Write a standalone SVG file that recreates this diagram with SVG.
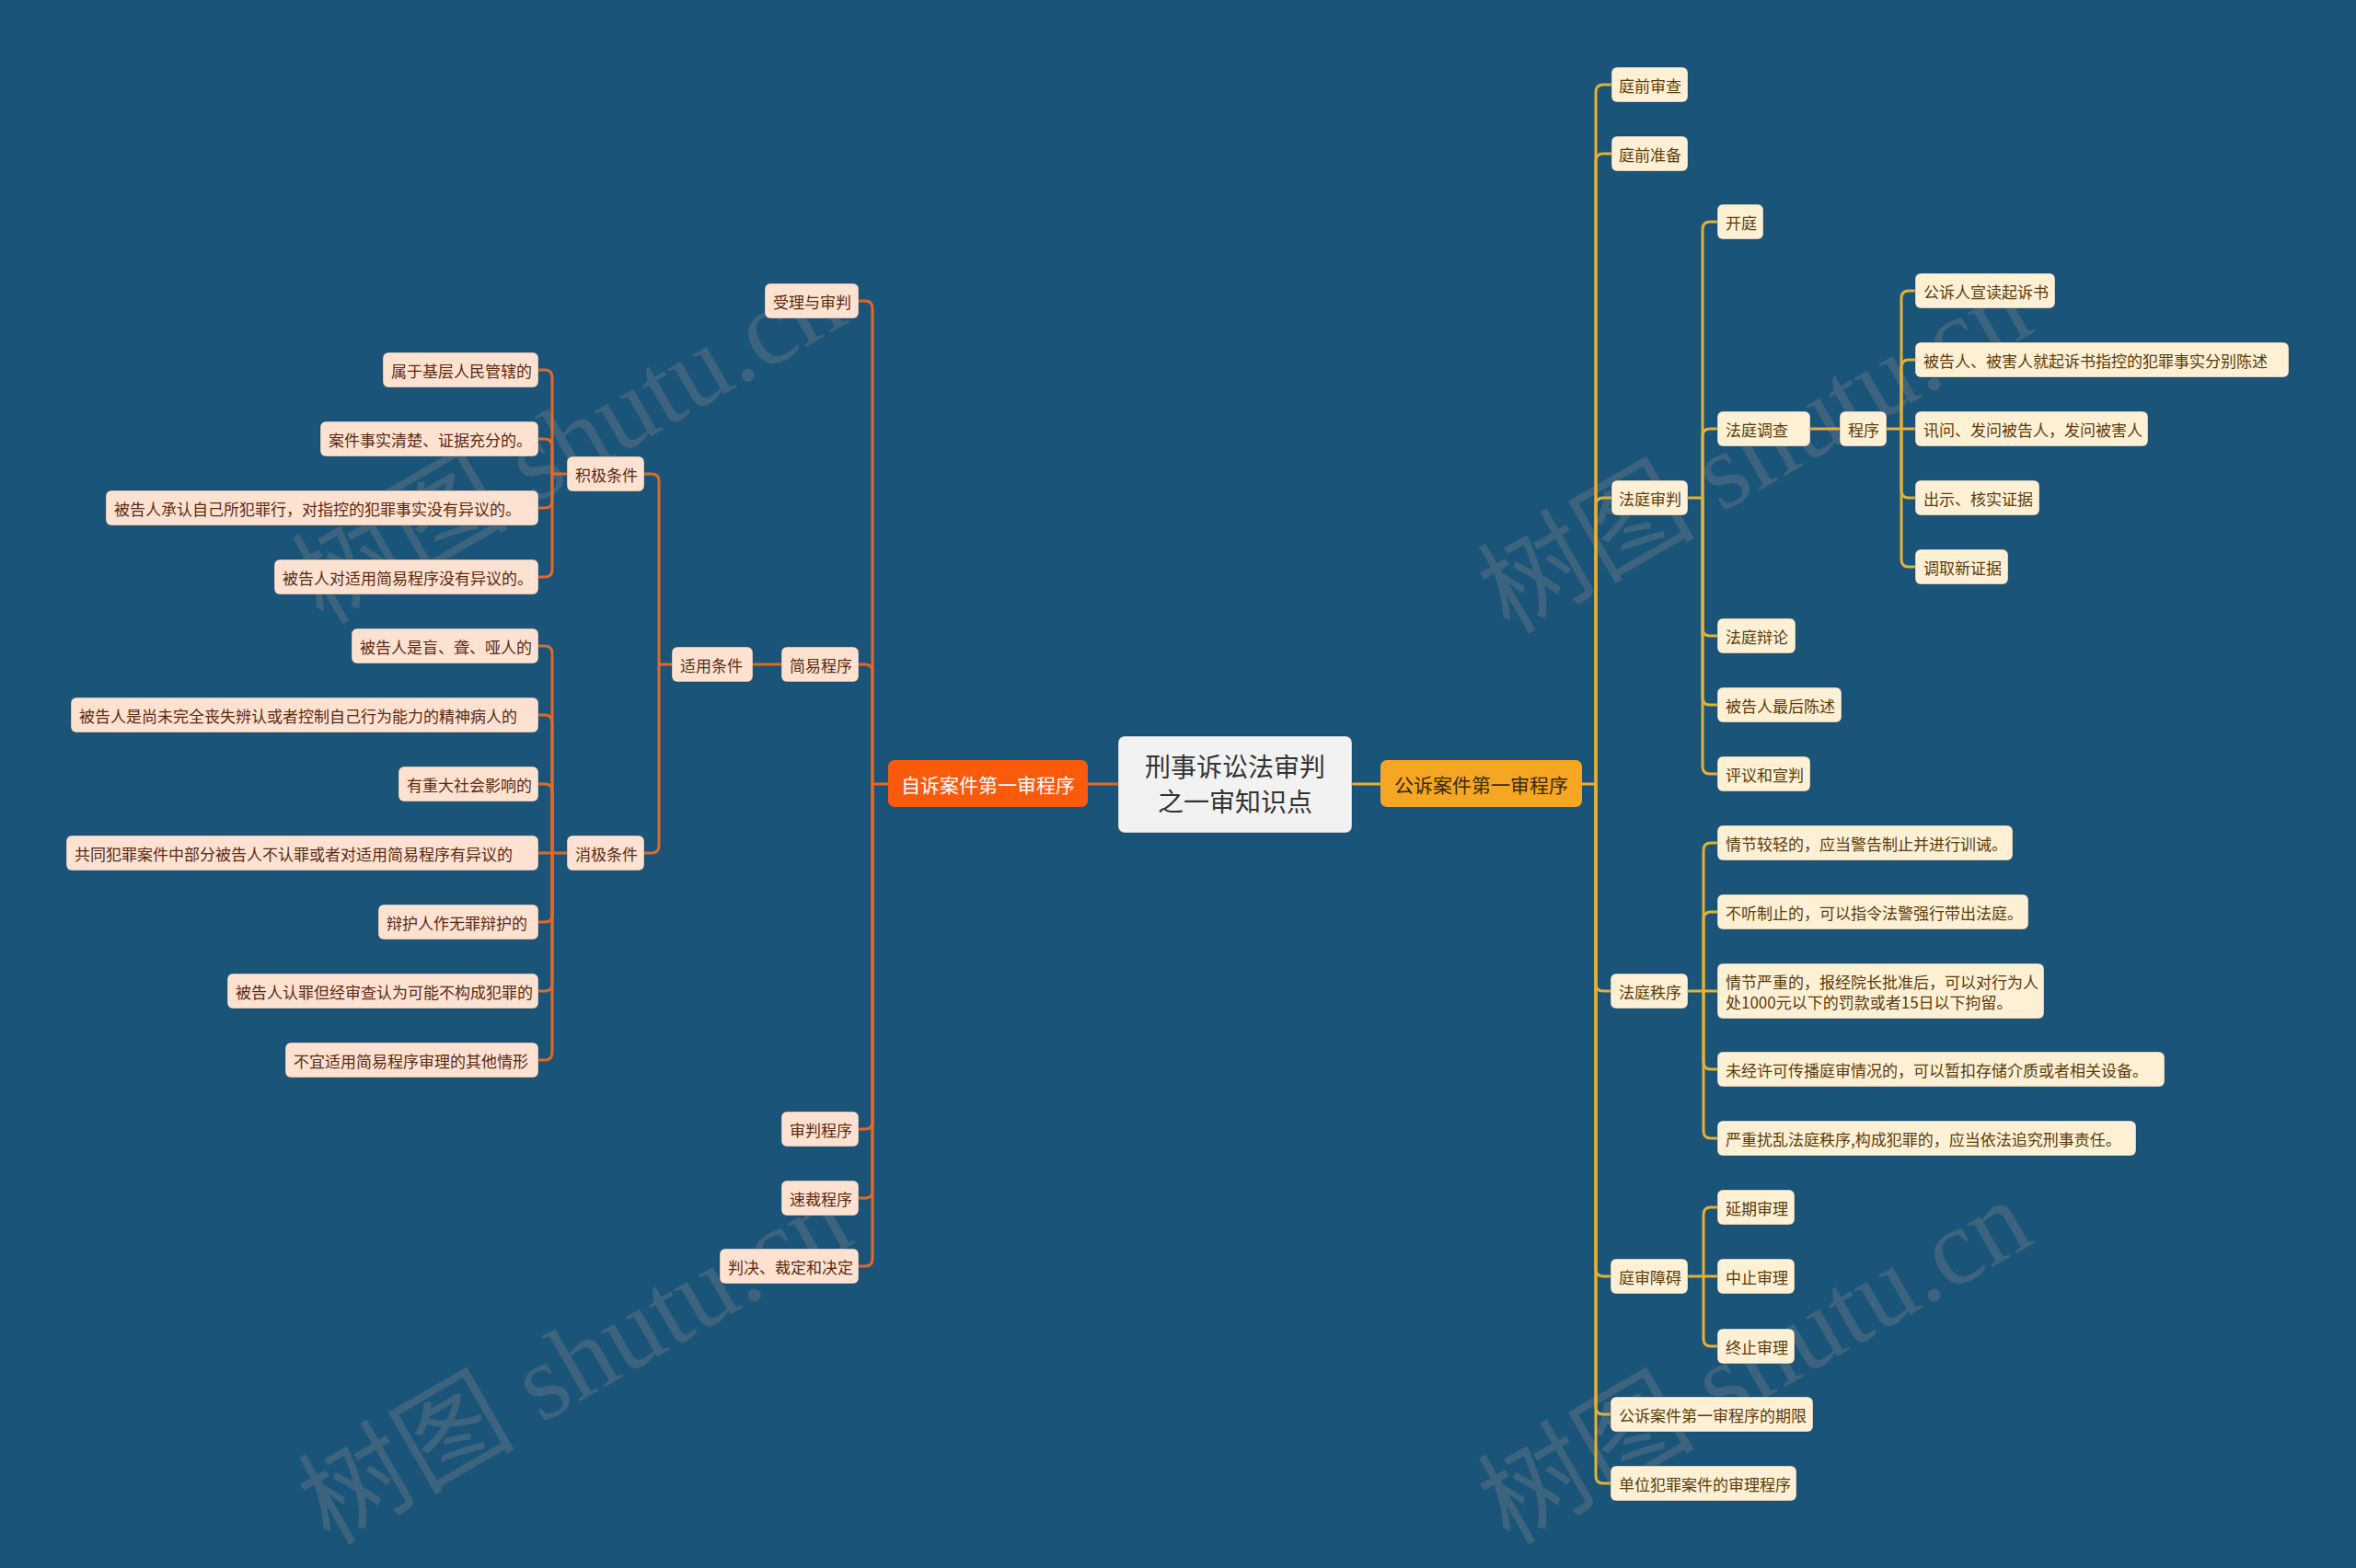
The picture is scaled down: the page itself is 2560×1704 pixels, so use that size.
<svg xmlns="http://www.w3.org/2000/svg" width="2560" height="1704" viewBox="0 0 2560 1704">
<style>
.bg{fill:#1a5479}
.L rect{fill:#fde2d1;stroke:#2a3a48;stroke-width:1;stroke-opacity:0.35}
.L text{fill:#5a2a14}
.R rect{fill:#fdf0d4;stroke:#2a3a48;stroke-width:1;stroke-opacity:0.35}
.R text{fill:#5a3c0c}
text{font-family:"Noto Sans CJK SC","Liberation Sans",sans-serif;font-size:17px}
.cl path{fill:none;stroke:#e2682a;stroke-width:3}
.cr path{fill:none;stroke:#e4b035;stroke-width:3}
.wm{font-family:"Liberation Serif","Noto Sans CJK SC",serif;font-size:118px;fill:#8a8a8a;opacity:0.3}
</style>
<rect class="bg" x="0" y="0" width="2560" height="1704"/>

<g id="watermarks">
<text class="wm" transform="translate(351,680) rotate(-30)">树图 shutu.cn</text>
<text class="wm" transform="translate(1640,690) rotate(-30)">树图 shutu.cn</text>
<text class="wm" transform="translate(358,1680) rotate(-30)">树图 shutu.cn</text>
<text class="wm" transform="translate(1640,1680) rotate(-30)">树图 shutu.cn</text>
</g>

<g id="connectors">
<g class="cl">
<path d="M1182 852 H1215"/>
<path d="M965 852 H948"/>
<path d="M948 852 V335 Q948 327 940 327 H933"/>
<path d="M948 852 V730 Q948 722 940 722 H933"/>
<path d="M948 852 V1219 Q948 1227 940 1227 H933"/>
<path d="M948 852 V1294 Q948 1302 940 1302 H933"/>
<path d="M948 852 V1368 Q948 1376 940 1376 H933"/>
<path d="M849 722 H818"/>
<path d="M730 722 H716"/>
<path d="M716 722 V523 Q716 515 708 515 H700"/>
<path d="M716 722 V919 Q716 927 708 927 H700"/>
<path d="M616 515 H600"/>
<path d="M600 515 V410 Q600 402 592 402 H585"/>
<path d="M600 515 V485 Q600 477 592 477 H585"/>
<path d="M600 515 V544 Q600 552 592 552 H585"/>
<path d="M600 515 V619 Q600 627 592 627 H585"/>
<path d="M616 927 H600"/>
<path d="M600 927 V710 Q600 702 592 702 H585"/>
<path d="M600 927 V785 Q600 777 592 777 H585"/>
<path d="M600 927 V860 Q600 852 592 852 H585"/>
<path d="M600 927 H585"/>
<path d="M600 927 V994 Q600 1002 592 1002 H585"/>
<path d="M600 927 V1069 Q600 1077 592 1077 H585"/>
<path d="M600 927 V1144 Q600 1152 592 1152 H585"/>
</g>
<g class="cr">
<path d="M1469 852 H1500"/>
<path d="M1719 852 H1734"/>
<path d="M1734 852 V100 Q1734 92 1742 92 H1751"/>
<path d="M1734 852 V175 Q1734 167 1742 167 H1751"/>
<path d="M1734 852 V549 Q1734 541 1742 541 H1751"/>
<path d="M1734 852 V1069 Q1734 1077 1742 1077 H1750"/>
<path d="M1734 852 V1379 Q1734 1387 1742 1387 H1750"/>
<path d="M1734 852 V1529 Q1734 1537 1742 1537 H1750"/>
<path d="M1734 852 V1604 Q1734 1612 1742 1612 H1750"/>
<path d="M1834 541 H1850"/>
<path d="M1850 541 V249 Q1850 241 1858 241 H1866"/>
<path d="M1850 541 V474 Q1850 466 1858 466 H1866"/>
<path d="M1850 541 V683 Q1850 691 1858 691 H1866"/>
<path d="M1850 541 V758 Q1850 766 1858 766 H1866"/>
<path d="M1850 541 V833 Q1850 841 1858 841 H1866"/>
<path d="M1967 466 H1999"/>
<path d="M2050 466 H2066"/>
<path d="M2066 466 V324 Q2066 316 2074 316 H2081"/>
<path d="M2066 466 V399 Q2066 391 2074 391 H2081"/>
<path d="M2066 466 H2081"/>
<path d="M2066 466 V533 Q2066 541 2074 541 H2081"/>
<path d="M2066 466 V608 Q2066 616 2074 616 H2081"/>
<path d="M1834 1077 H1851"/>
<path d="M1851 1077 V924 Q1851 916 1859 916 H1866"/>
<path d="M1851 1077 V999 Q1851 991 1859 991 H1866"/>
<path d="M1851 1077 H1866"/>
<path d="M1851 1077 V1154 Q1851 1162 1859 1162 H1866"/>
<path d="M1851 1077 V1229 Q1851 1237 1859 1237 H1866"/>
<path d="M1834 1387 H1851"/>
<path d="M1851 1387 V1320 Q1851 1312 1859 1312 H1866"/>
<path d="M1851 1387 H1866"/>
<path d="M1851 1387 V1455 Q1851 1463 1859 1463 H1866"/>
</g>
</g>

<g id="root">
<rect x="1215" y="800" width="254" height="105" rx="7" fill="#f2f2f2" stroke="#2a3a48" stroke-opacity="0.35"/>
<text x="1342" y="844" text-anchor="middle" style="font-size:28px;fill:#333">刑事诉讼法审判</text>
<text x="1342" y="882" text-anchor="middle" style="font-size:28px;fill:#333">之一审知识点</text>
</g>

<g id="main_left">
<rect x="965" y="826" width="217" height="51" rx="7" fill="#fa5a0c"/>
<text x="1073.5" y="852" text-anchor="middle" dominant-baseline="central" style="font-size:21px;fill:#ffffff">自诉案件第一审程序</text>
</g>
<g id="main_right">
<rect x="1500" y="826" width="219" height="51" rx="7" fill="#f5a623"/>
<text x="1609.5" y="852" text-anchor="middle" dominant-baseline="central" style="font-size:21px;fill:#3a2a0a">公诉案件第一审程序</text>
</g>

<!-- left nodes -->
<g id="n_shouli" class="L"><rect x="831" y="308" width="102" height="38" rx="6"/><text x="840" y="327" dominant-baseline="central">受理与审判</text></g>
<g id="n_jianyi" class="L"><rect x="849" y="703" width="84" height="38" rx="6"/><text x="858" y="722" dominant-baseline="central">简易程序</text></g>
<g id="n_shenpan" class="L"><rect x="849" y="1208" width="84" height="38" rx="6"/><text x="858" y="1227" dominant-baseline="central">审判程序</text></g>
<g id="n_sucai" class="L"><rect x="849" y="1283" width="84" height="38" rx="6"/><text x="858" y="1302" dominant-baseline="central">速裁程序</text></g>
<g id="n_panjue" class="L"><rect x="782" y="1357" width="151" height="38" rx="6"/><text x="791" y="1376" dominant-baseline="central">判决、裁定和决定</text></g>
<g id="n_shiyong" class="L"><rect x="730" y="703" width="88" height="38" rx="6"/><text x="739" y="722" dominant-baseline="central">适用条件</text></g>
<g id="n_jiji" class="L"><rect x="616" y="496" width="84" height="38" rx="6"/><text x="625" y="515" dominant-baseline="central">积极条件</text></g>
<g id="n_xiaoji" class="L"><rect x="616" y="908" width="84" height="38" rx="6"/><text x="625" y="927" dominant-baseline="central">消极条件</text></g>
<g id="n_j1" class="L"><rect x="416" y="383" width="169" height="38" rx="6"/><text x="425" y="402" dominant-baseline="central">属于基层人民管辖的</text></g>
<g id="n_j2" class="L"><rect x="348" y="458" width="237" height="38" rx="6"/><text x="357" y="477" dominant-baseline="central">案件事实清楚、证据充分的。</text></g>
<g id="n_j3" class="L"><rect x="115" y="533" width="470" height="38" rx="6"/><text x="124" y="552" dominant-baseline="central">被告人承认自己所犯罪行，对指控的犯罪事实没有异议的。</text></g>
<g id="n_j4" class="L"><rect x="298" y="608" width="287" height="38" rx="6"/><text x="307" y="627" dominant-baseline="central">被告人对适用简易程序没有异议的。</text></g>
<g id="n_x1" class="L"><rect x="382" y="683" width="203" height="38" rx="6"/><text x="391" y="702" dominant-baseline="central">被告人是盲、聋、哑人的</text></g>
<g id="n_x2" class="L"><rect x="77" y="758" width="508" height="38" rx="6"/><text x="86" y="777" dominant-baseline="central">被告人是尚未完全丧失辨认或者控制自己行为能力的精神病人的</text></g>
<g id="n_x3" class="L"><rect x="433" y="833" width="152" height="38" rx="6"/><text x="442" y="852" dominant-baseline="central">有重大社会影响的</text></g>
<g id="n_x4" class="L"><rect x="72" y="908" width="513" height="38" rx="6"/><text x="81" y="927" dominant-baseline="central">共同犯罪案件中部分被告人不认罪或者对适用简易程序有异议的</text></g>
<g id="n_x5" class="L"><rect x="411" y="983" width="174" height="38" rx="6"/><text x="420" y="1002" dominant-baseline="central">辩护人作无罪辩护的</text></g>
<g id="n_x6" class="L"><rect x="247" y="1058" width="338" height="38" rx="6"/><text x="256" y="1077" dominant-baseline="central">被告人认罪但经审查认为可能不构成犯罪的</text></g>
<g id="n_x7" class="L"><rect x="310" y="1133" width="275" height="38" rx="6"/><text x="319" y="1152" dominant-baseline="central">不宜适用简易程序审理的其他情形</text></g>

<!-- right nodes -->
<g id="n_tqsc" class="R"><rect x="1751" y="73" width="83" height="38" rx="6"/><text x="1759" y="92" dominant-baseline="central">庭前审查</text></g>
<g id="n_tqzb" class="R"><rect x="1751" y="148" width="83" height="38" rx="6"/><text x="1759" y="167" dominant-baseline="central">庭前准备</text></g>
<g id="n_ftsp" class="R"><rect x="1751" y="522" width="83" height="38" rx="6"/><text x="1759" y="541" dominant-baseline="central">法庭审判</text></g>
<g id="n_ftzx" class="R"><rect x="1750" y="1058" width="84" height="38" rx="6"/><text x="1759" y="1077" dominant-baseline="central">法庭秩序</text></g>
<g id="n_tsza" class="R"><rect x="1750" y="1368" width="84" height="38" rx="6"/><text x="1759" y="1387" dominant-baseline="central">庭审障碍</text></g>
<g id="n_qixian" class="R"><rect x="1750" y="1518" width="220" height="38" rx="6"/><text x="1759" y="1537" dominant-baseline="central">公诉案件第一审程序的期限</text></g>
<g id="n_danwei" class="R"><rect x="1750" y="1593" width="202" height="38" rx="6"/><text x="1759" y="1612" dominant-baseline="central">单位犯罪案件的审理程序</text></g>
<g id="n_kaiting" class="R"><rect x="1866" y="222" width="50" height="38" rx="6"/><text x="1875" y="241" dominant-baseline="central">开庭</text></g>
<g id="n_ftdc" class="R"><rect x="1866" y="447" width="101" height="38" rx="6"/><text x="1875" y="466" dominant-baseline="central">法庭调查</text></g>
<g id="n_chengxu" class="R"><rect x="1999" y="447" width="51" height="38" rx="6"/><text x="2008" y="466" dominant-baseline="central">程序</text></g>
<g id="n_c1" class="R"><rect x="2081" y="297" width="152" height="38" rx="6"/><text x="2090" y="316" dominant-baseline="central">公诉人宣读起诉书</text></g>
<g id="n_c2" class="R"><rect x="2081" y="372" width="406" height="38" rx="6"/><text x="2090" y="391" dominant-baseline="central">被告人、被害人就起诉书指控的犯罪事实分别陈述</text></g>
<g id="n_c3" class="R"><rect x="2081" y="447" width="253" height="38" rx="6"/><text x="2090" y="466" dominant-baseline="central">讯问、发问被告人，发问被害人</text></g>
<g id="n_c4" class="R"><rect x="2081" y="522" width="135" height="38" rx="6"/><text x="2090" y="541" dominant-baseline="central">出示、核实证据</text></g>
<g id="n_c5" class="R"><rect x="2081" y="597" width="101" height="38" rx="6"/><text x="2090" y="616" dominant-baseline="central">调取新证据</text></g>
<g id="n_ftbl" class="R"><rect x="1866" y="672" width="85" height="38" rx="6"/><text x="1875" y="691" dominant-baseline="central">法庭辩论</text></g>
<g id="n_zhcs" class="R"><rect x="1866" y="747" width="135" height="38" rx="6"/><text x="1875" y="766" dominant-baseline="central">被告人最后陈述</text></g>
<g id="n_pyxp" class="R"><rect x="1866" y="822" width="101" height="38" rx="6"/><text x="1875" y="841" dominant-baseline="central">评议和宣判</text></g>
<g id="n_o1" class="R"><rect x="1866" y="897" width="321" height="38" rx="6"/><text x="1875" y="916" dominant-baseline="central">情节较轻的，应当警告制止并进行训诫。</text></g>
<g id="n_o2" class="R"><rect x="1866" y="972" width="338" height="38" rx="6"/><text x="1875" y="991" dominant-baseline="central">不听制止的，可以指令法警强行带出法庭。</text></g>
<g id="n_o3" class="R"><rect x="1866" y="1047" width="355" height="60" rx="6"/><text x="1875" y="1066" dominant-baseline="central">情节严重的，报经院长批准后，可以对行为人</text><text x="1875" y="1088" dominant-baseline="central">处1000元以下的罚款或者15日以下拘留。</text></g>
<g id="n_o4" class="R"><rect x="1866" y="1143" width="486" height="38" rx="6"/><text x="1875" y="1162" dominant-baseline="central">未经许可传播庭审情况的，可以暂扣存储介质或者相关设备。</text></g>
<g id="n_o5" class="R"><rect x="1866" y="1218" width="455" height="38" rx="6"/><text x="1875" y="1237" dominant-baseline="central">严重扰乱法庭秩序,构成犯罪的，应当依法追究刑事责任。</text></g>
<g id="n_z1" class="R"><rect x="1866" y="1293" width="84" height="38" rx="6"/><text x="1875" y="1312" dominant-baseline="central">延期审理</text></g>
<g id="n_z2" class="R"><rect x="1866" y="1368" width="84" height="38" rx="6"/><text x="1875" y="1387" dominant-baseline="central">中止审理</text></g>
<g id="n_z3" class="R"><rect x="1866" y="1444" width="84" height="38" rx="6"/><text x="1875" y="1463" dominant-baseline="central">终止审理</text></g>
</svg>
